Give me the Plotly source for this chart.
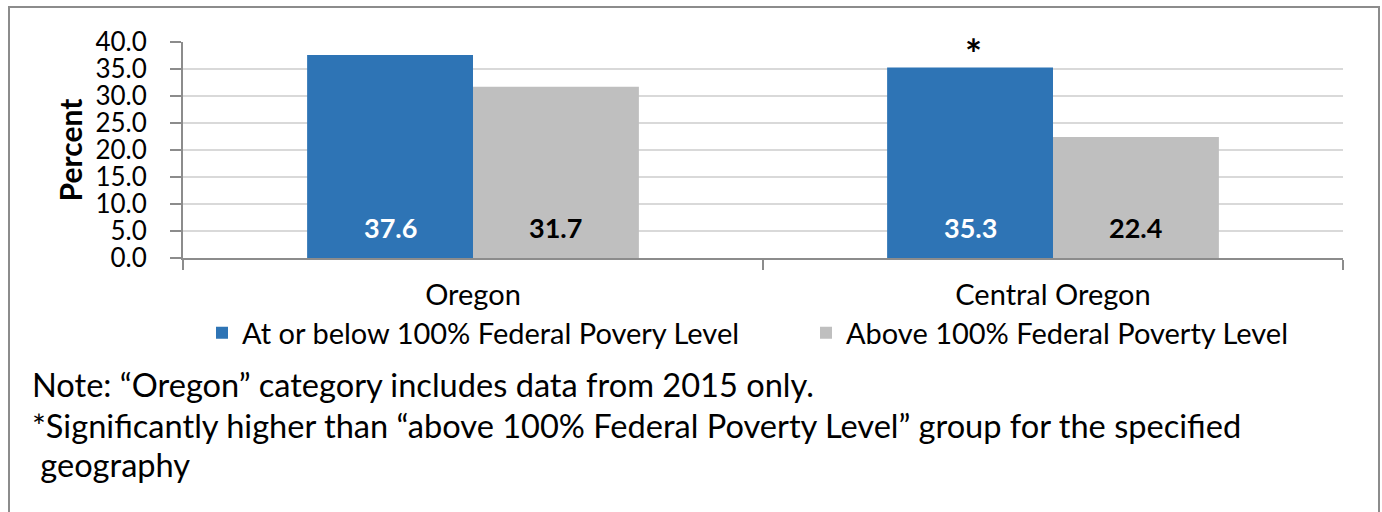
import plotly.graph_objects as go

categories = ["Oregon", "Central Oregon"]
series_names = ["At or below 100% Federal Povery Level", "Above 100% Federal Poverty Level"]
below_fpl = [37.6, 35.3]
above_fpl = [31.7, 22.4]
significant = [False, True]
y_ticks = [0, 5, 10, 15, 20, 25, 30, 35, 40]
notes = [
    "Note: \u201cOregon\u201d category includes data from 2015 only.",
    "*Significantly higher than \u201cabove 100% Federal Poverty Level\u201d group for the specified",
    "&nbsp;geography",
]

BLUE = "#2E74B5"
GREY = "#BFBFBF"
FONT = "Lato"

W, H = 1382, 512
L, R, T, B = 183, 39, 42, 254
pw, ph = W - L - R, H - T - B
BARGAP = 0.428

def px_x(x):
    return (x - L) / pw

def px_y(y):
    return (H - B - y) / ph

fig = go.Figure()
fig.add_trace(go.Bar(x=categories, y=below_fpl, name=series_names[0], legend="legend",
                     marker=dict(color=BLUE, line=dict(width=0))))
fig.add_trace(go.Bar(x=categories, y=above_fpl, name=series_names[1], legend="legend2",
                     marker=dict(color=GREY, line=dict(width=0))))

bar_px = pw / len(categories) * (1 - BARGAP) / 2
annotations = []
for i, c in enumerate(categories):
    annotations.append(dict(x=c, y=0, xref="x", yref="y", text=f"<b>{below_fpl[i]:.1f}</b>",
                            showarrow=False, xshift=-bar_px / 2, yshift=12, yanchor="bottom",
                            font=dict(family=FONT, size=27, color="white")))
    annotations.append(dict(x=c, y=0, xref="x", yref="y", text=f"<b>{above_fpl[i]:.1f}</b>",
                            showarrow=False, xshift=bar_px / 2, yshift=12, yanchor="bottom",
                            font=dict(family=FONT, size=27, color="black")))
    if significant[i]:
        annotations.append(dict(x=c, y=below_fpl[i], xref="x", yref="y", text="<b>*</b>",
                                showarrow=False, xshift=-bar_px / 2 + 3, yshift=13, yanchor="middle",
                                font=dict(family=FONT, size=40, color="black")))

note_y = [385, 425, 464]
note_x = [30, 30, 30]
for t, yy, xx in zip(notes, note_y, note_x):
    annotations.append(dict(x=px_x(xx), y=px_y(yy), xref="paper", yref="paper", text=t,
                            showarrow=False, xanchor="left", yanchor="middle",
                            font=dict(family=FONT, size=32.6, color="black")))

legend_common = dict(orientation="h", xanchor="left", y=px_y(333), yanchor="middle",
                     font=dict(family=FONT, size=29, color="black"),
                     bgcolor="rgba(0,0,0,0)", borderwidth=0)

fig.update_layout(
    width=W, height=H,
    margin=dict(l=L, r=R, t=T, b=B, autoexpand=False),
    paper_bgcolor="white", plot_bgcolor="white",
    barmode="group", bargap=BARGAP, bargroupgap=0,
    font=dict(family=FONT, color="black"),
    showlegend=True,
    legend=dict(x=px_x(202), **legend_common),
    legend2=dict(x=px_x(806), **legend_common),
    annotations=annotations,
    shapes=[dict(type="rect", xref="paper", yref="paper",
                 x0=px_x(9), x1=px_x(1379), y0=px_y(7), y1=px_y(530),
                 line=dict(color="#8C8C8C", width=2), fillcolor="rgba(0,0,0,0)", layer="below")],
)

fig.update_yaxes(range=[0, 40], tickvals=y_ticks, ticktext=[f"{v:.1f}" for v in y_ticks],
                 showgrid=True, gridcolor="#D9D9D9", gridwidth=2,
                 showline=True, linecolor="#8C8C8C", linewidth=2,
                 ticks="outside", ticklen=11, tickcolor="#8C8C8C", tickwidth=2,
                 ticklabelstandoff=18, zeroline=False,
                 tickfont=dict(family=FONT, size=26, color="black"),
                 title=dict(text="<b>Percent</b>", font=dict(family=FONT, size=30, color="black"), standoff=4))
fig.update_xaxes(showline=True, linecolor="#8C8C8C", linewidth=2,
                 ticks="outside", tickson="boundaries", ticklen=10, tickcolor="#8C8C8C", tickwidth=2,
                 ticklabelstandoff=10,
                 tickfont=dict(family=FONT, size=29, color="black"), showgrid=False)

fig.write_html("out.html", config={"displayModeBar": False},
               post_script="document.body.style.margin='0';document.body.style.overflow='hidden';")
